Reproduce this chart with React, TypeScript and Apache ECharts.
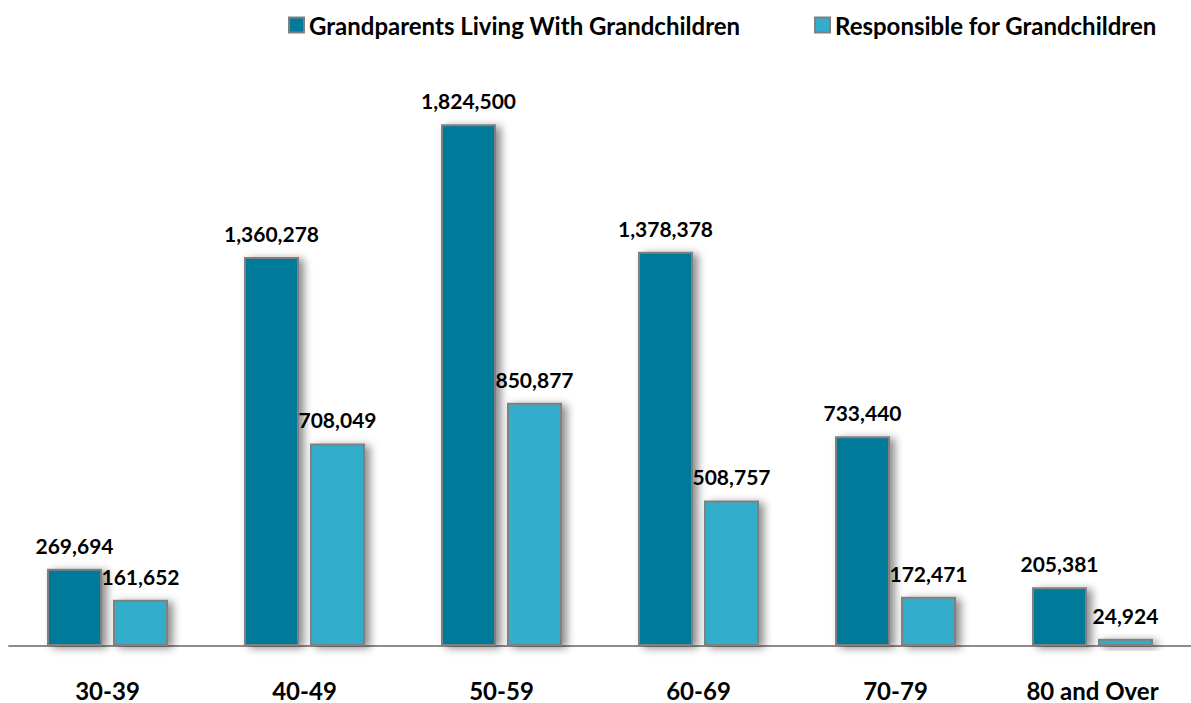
import React, { useEffect, useRef } from "react";
import * as echarts from "echarts";

const categories = ["30-39", "40-49", "50-59", "60-69", "70-79", "80 and Over"];
const livingWith = [269694, 1360278, 1824500, 1378378, 733440, 205381];
const responsible = [161652, 708049, 850877, 508757, 172471, 24924];
const seriesNames = ["Grandparents Living With Grandchildren", "Responsible for Grandchildren"];

const FONT = "Lato, 'Open Sans', sans-serif";

export default function App() {
  const ref = useRef<HTMLDivElement>(null);
  useEffect(() => {
    if (!ref.current) return;
    const chart = echarts.init(ref.current, null, { renderer: "svg" });
    const barStyle = (color: string) => ({
      color,
      borderColor: "#808080",
      borderWidth: 2,
      shadowColor: "rgba(0,0,0,0.45)",
      shadowBlur: 8,
      shadowOffsetX: 5,
      shadowOffsetY: 2,
    });
    const label = {
      show: true,
      position: "top",
      distance: 13,
      color: "#000",
      fontFamily: FONT,
      fontWeight: "bold",
      fontSize: 21,
      formatter: (p: any) => Number(p.value).toLocaleString("en-US"),
    };
    const legendCommon = {
      top: 8,
      itemWidth: 15,
      itemHeight: 15,
      icon: "rect",
      textStyle: { color: "#000", fontFamily: FONT, fontWeight: "bold", fontSize: 24 },
    };
    chart.setOption({
      animation: false,
      backgroundColor: "#fff",
      legend: [
        { ...legendCommon, left: 283, data: [seriesNames[0]] },
        { ...legendCommon, left: 809, data: [seriesNames[1]] },
      ],
      grid: { left: 9, width: 1194, top: 74, bottom: 57 },
      xAxis: {
        type: "category",
        data: categories,
        axisTick: { show: false },
        axisLine: { lineStyle: { color: "#8c8c8c", width: 2 } },
        axisLabel: {
          color: "#000",
          fontFamily: FONT,
          fontWeight: "bold",
          fontSize: 24,
          margin: 32,
        },
      },
      yAxis: { type: "value", min: 0, max: 2000000, show: false, splitLine: { show: false } },
      series: [
        {
          name: seriesNames[0],
          type: "bar",
          data: livingWith,
          barWidth: 55,
          barGap: "20%",
          itemStyle: barStyle("#037A9A"),
          label,
        },
        {
          name: seriesNames[1],
          type: "bar",
          data: responsible,
          barWidth: 55,
          itemStyle: barStyle("#33ADCC"),
          label,
        },
      ],
    });
    return () => chart.dispose();
  }, []);
  return (
    <div
      ref={ref}
      style={{ position: "fixed", left: 0, top: 0, width: 1191, height: 703, background: "#fff" }}
    />
  );
}
